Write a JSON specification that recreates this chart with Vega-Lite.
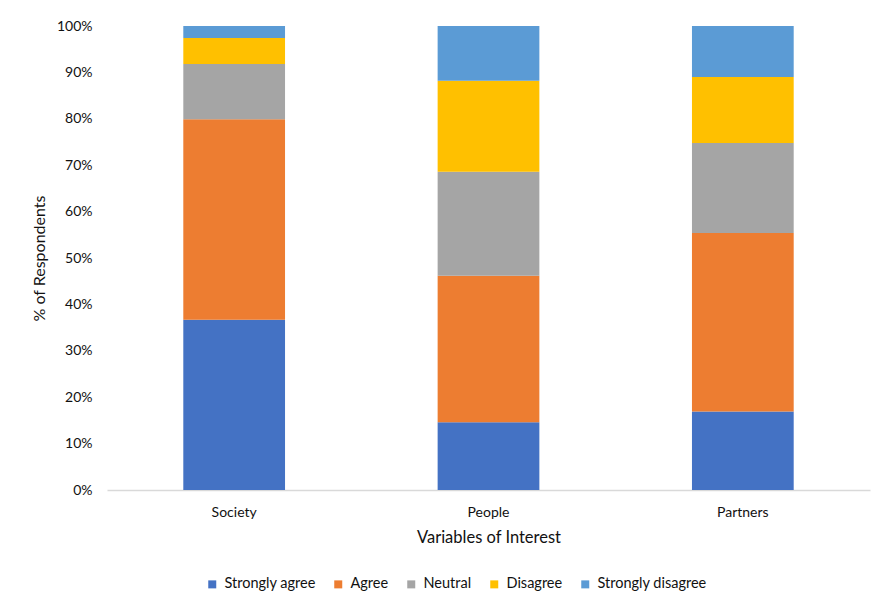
{
  "$schema": "https://vega.github.io/schema/vega-lite/v6.json",
  "width": 763,
  "height": 464,
  "autosize": {"type": "none"},
  "padding": {"left": 107, "top": 26, "right": 7, "bottom": 116},
  "background": "white",
  "config": {
    "font": "Lato",
    "view": {"stroke": null},
    "axis": {"labelColor": "#111111", "titleColor": "#111111", "titleFontWeight": "normal"}
  },
  "data": {
    "values": [
      {"variable": "Society", "response": "Strongly agree", "pct": 36.7},
      {"variable": "Society", "response": "Agree", "pct": 43.2},
      {"variable": "Society", "response": "Neutral", "pct": 11.9},
      {"variable": "Society", "response": "Disagree", "pct": 5.6},
      {"variable": "Society", "response": "Strongly disagree", "pct": 2.6},
      {"variable": "People", "response": "Strongly agree", "pct": 14.6},
      {"variable": "People", "response": "Agree", "pct": 31.6},
      {"variable": "People", "response": "Neutral", "pct": 22.4},
      {"variable": "People", "response": "Disagree", "pct": 19.6},
      {"variable": "People", "response": "Strongly disagree", "pct": 11.8},
      {"variable": "Partners", "response": "Strongly agree", "pct": 16.9},
      {"variable": "Partners", "response": "Agree", "pct": 38.5},
      {"variable": "Partners", "response": "Neutral", "pct": 19.4},
      {"variable": "Partners", "response": "Disagree", "pct": 14.2},
      {"variable": "Partners", "response": "Strongly disagree", "pct": 11.0}
    ]
  },
  "transform": [
    {
      "calculate": "indexof(['Strongly agree', 'Agree', 'Neutral', 'Disagree', 'Strongly disagree'], datum.response)",
      "as": "stackOrder"
    }
  ],
  "mark": {"type": "bar"},
  "encoding": {
    "x": {
      "field": "variable",
      "type": "nominal",
      "sort": ["Society", "People", "Partners"],
      "scale": {"paddingInner": 0.6, "paddingOuter": 0.3},
      "axis": {
        "title": "Variables of Interest",
        "labelAngle": 0,
        "labelFontSize": 14,
        "labelPadding": 15,
        "ticks": false,
        "domainColor": "#d9d9d9",
        "domainWidth": 1.5,
        "titleFontSize": 16.5,
        "titlePadding": 10
      }
    },
    "y": {
      "field": "pct",
      "type": "quantitative",
      "stack": "zero",
      "scale": {"domain": [0, 100], "nice": false},
      "axis": {
        "title": "% of Respondents",
        "values": [0, 10, 20, 30, 40, 50, 60, 70, 80, 90, 100],
        "labelExpr": "datum.value + '%'",
        "labelFontSize": 14,
        "labelPadding": 15,
        "ticks": false,
        "domain": false,
        "grid": false,
        "titleFontSize": 16,
        "titlePadding": 9
      }
    },
    "order": {"field": "stackOrder", "type": "quantitative", "sort": "ascending"},
    "color": {
      "field": "response",
      "type": "nominal",
      "sort": ["Strongly agree", "Agree", "Neutral", "Disagree", "Strongly disagree"],
      "scale": {
        "domain": ["Strongly agree", "Agree", "Neutral", "Disagree", "Strongly disagree"],
        "range": ["#4472C4", "#ED7D31", "#A5A5A5", "#FFC000", "#5B9BD5"]
      },
      "legend": {
        "title": null,
        "orient": "none",
        "direction": "horizontal",
        "legendX": 98,
        "legendY": 551,
        "symbolType": "square",
        "symbolSize": 64,
        "symbolStrokeWidth": 0,
        "labelFontSize": 14.5,
        "labelColor": "#111111",
        "labelOffset": 5,
        "columnPadding": 15
      }
    }
  }
}
